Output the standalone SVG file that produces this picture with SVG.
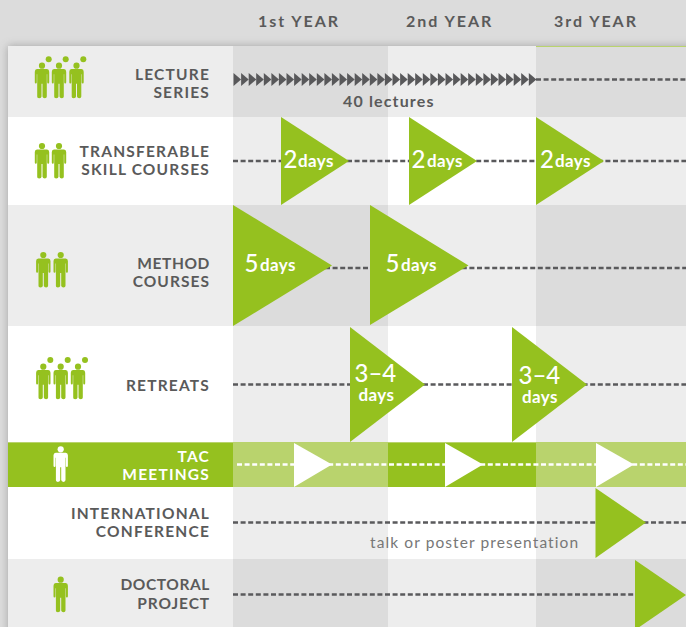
<svg xmlns="http://www.w3.org/2000/svg" width="686" height="627" viewBox="0 0 686 627">
<style>
.l{font:700 15.5px Lato,"Noto Sans",sans-serif;letter-spacing:1.2px;fill:#5a5a5a;text-anchor:end}
.y{font:700 16px Lato,"Noto Sans",sans-serif;letter-spacing:1.95px;fill:#5a5a5a}
.n{font:500 24px Lato,"Noto Sans",sans-serif;fill:#fff}
.d{font:700 17px Lato,"Noto Sans",sans-serif;letter-spacing:.4px;fill:#fff}
.g{fill:#95c11f}
.a{fill:#dcdcdc}.b{fill:#ededed}.c{fill:#fff}
.ln{fill:none;stroke:#5a5a5c;stroke-width:2.4;stroke-dasharray:5 2.6}
.lw{fill:none;stroke:#fff;stroke-width:2.4;stroke-dasharray:5 2.6}
</style>
<defs>
<filter id="sh" x="-5%" y="-5%" width="110%" height="110%"><feGaussianBlur stdDeviation="4"/></filter>
<g id="p">
<circle cx="0" cy="0" r="3.1"/>
<path d="M-5 3.4H5Q7.2 3.6 7.2 6V16.5Q7.2 17.8 6.2 17.8T5.2 16.5V8.5H4.8V30.8Q4.8 32.6 2.8 32.6T0.5 30.8V18H-0.5V30.8Q-0.5 32.6 -2.8 32.6T-4.8 30.8V8.5H-5.2V16.5Q-5.2 17.8 -6.2 17.8T-7.2 16.5V6Q-7.2 3.6 -5 3.4Z"/>
</g>
<path id="c" d="M0 -6.5L7.6 0L0 6.5Z" fill="#58585a"/>
</defs>
<rect width="686" height="627" fill="#dcdcdc"/>
<rect x="8" y="46" width="700" height="600" fill="#8a8a8a" filter="url(#sh)" opacity="0.7"/>
<g id="bands">
<rect x="8" y="46" width="225" height="71" class="b"/><rect x="233" y="46" width="155" height="71" class="a"/><rect x="388" y="46" width="148" height="71" class="b"/><rect x="536" y="46" width="150" height="71" class="a"/>
<rect x="8" y="117" width="225" height="88" class="c"/><rect x="233" y="117" width="155" height="88" class="b"/><rect x="388" y="117" width="148" height="88" class="c"/><rect x="536" y="117" width="150" height="88" class="b"/>
<rect x="8" y="205" width="225" height="121" class="b"/><rect x="233" y="205" width="155" height="121" class="a"/><rect x="388" y="205" width="148" height="121" class="b"/><rect x="536" y="205" width="150" height="121" class="a"/>
<rect x="8" y="326" width="225" height="116" class="c"/><rect x="233" y="326" width="155" height="116" class="b"/><rect x="388" y="326" width="148" height="116" class="c"/><rect x="536" y="326" width="150" height="116" class="b"/>
<rect x="8" y="442" width="225" height="45" class="g"/><rect x="233" y="442" width="155" height="45" fill="#b9d36d"/><rect x="388" y="442" width="148" height="45" class="g"/><rect x="536" y="442" width="150" height="45" fill="#b9d36d"/>
<rect x="8" y="487" width="225" height="72" class="c"/><rect x="233" y="487" width="155" height="72" class="b"/><rect x="388" y="487" width="148" height="72" class="c"/><rect x="536" y="487" width="150" height="72" class="b"/>
<rect x="8" y="559" width="225" height="68" class="b"/><rect x="233" y="559" width="155" height="68" class="a"/><rect x="388" y="559" width="148" height="68" class="b"/><rect x="536" y="559" width="150" height="68" class="a"/>
<rect x="536" y="46" width="150" height="1" fill="#b9d36d"/>
<rect x="8" y="442" width="678" height="1" fill="#b9d36d"/>
</g>
<g id="years">
<text class="y" x="258" y="27">1st YEAR</text>
<text class="y" x="406" y="27">2nd YEAR</text>
<text class="y" x="554" y="27">3rd YEAR</text>
</g>
<g id="connectors">
<path class="ln" d="M536 79.5H686"/>
<path class="ln" d="M233 161H686"/>
<path class="ln" d="M325 268H686"/>
<path class="ln" d="M233 384.5H686"/>
<path class="lw" d="M237 464.5H686"/>
<path class="ln" d="M233 522.5H686"/>
<path class="ln" d="M233 594.5H640"/>
</g>
<g id="lecture-series">
<g class="g"><use href="#p" x="42" y="65.7"/><use href="#p" x="59" y="65.7"/><use href="#p" x="76.5" y="65.7"/><circle cx="48.7" cy="59.3" r="3"/><circle cx="65.7" cy="59.3" r="3"/><circle cx="83.3" cy="59.3" r="3"/></g>
<text class="l"><tspan x="210" y="80">LECTURE</tspan><tspan x="210" y="98">SERIES</tspan></text>
<g id="chevrons">
<use href="#c" x="233.5" y="79.5"/><use href="#c" x="241.1" y="79.5"/><use href="#c" x="248.7" y="79.5"/><use href="#c" x="256.2" y="79.5"/><use href="#c" x="263.8" y="79.5"/><use href="#c" x="271.4" y="79.5"/><use href="#c" x="278.9" y="79.5"/><use href="#c" x="286.5" y="79.5"/><use href="#c" x="294.1" y="79.5"/><use href="#c" x="301.7" y="79.5"/><use href="#c" x="309.2" y="79.5"/><use href="#c" x="316.8" y="79.5"/><use href="#c" x="324.4" y="79.5"/><use href="#c" x="331.9" y="79.5"/><use href="#c" x="339.5" y="79.5"/><use href="#c" x="347.1" y="79.5"/><use href="#c" x="354.7" y="79.5"/><use href="#c" x="362.2" y="79.5"/><use href="#c" x="369.8" y="79.5"/><use href="#c" x="377.4" y="79.5"/><use href="#c" x="384.9" y="79.5"/><use href="#c" x="392.5" y="79.5"/><use href="#c" x="400.1" y="79.5"/><use href="#c" x="407.7" y="79.5"/><use href="#c" x="415.2" y="79.5"/><use href="#c" x="422.8" y="79.5"/><use href="#c" x="430.4" y="79.5"/><use href="#c" x="437.9" y="79.5"/><use href="#c" x="445.5" y="79.5"/><use href="#c" x="453.1" y="79.5"/><use href="#c" x="460.7" y="79.5"/><use href="#c" x="468.2" y="79.5"/><use href="#c" x="475.8" y="79.5"/><use href="#c" x="483.4" y="79.5"/><use href="#c" x="490.9" y="79.5"/><use href="#c" x="498.5" y="79.5"/><use href="#c" x="506.1" y="79.5"/><use href="#c" x="513.7" y="79.5"/><use href="#c" x="521.2" y="79.5"/><use href="#c" x="528.8" y="79.5"/>
</g>
<text x="343" y="107" style="font:700 16px Lato,'Noto Sans',sans-serif;letter-spacing:1.15px;fill:#5a5a5a">40 lectures</text>
</g>
<g id="transferable-skill-courses">
<g class="g"><use href="#p" x="42" y="146"/><use href="#p" x="59" y="146"/></g>
<text class="l"><tspan x="210" y="157">TRANSFERABLE</tspan><tspan x="210" y="175">SKILL COURSES</tspan></text>
<polygon class="g" points="281,117 349,161 281,205"/><polygon class="g" points="409,117 477,161 409,205"/><polygon class="g" points="536,117 604,161 536,205"/>
<text class="n" x="283.5" y="168">2<tspan class="d" x="298" y="167">days</tspan></text>
<text class="n" x="411.5" y="168">2<tspan class="d" x="427" y="167">days</tspan></text>
<text class="n" x="540" y="168">2<tspan class="d" x="555" y="167">days</tspan></text>
</g>
<g id="method-courses">
<g class="g"><use href="#p" x="43.3" y="255"/><use href="#p" x="60.7" y="255"/></g>
<text class="l"><tspan x="210" y="269" style="letter-spacing:.6px">METHOD</tspan><tspan x="210" y="287" style="letter-spacing:1.05px">COURSES</tspan></text>
<polygon class="g" points="233,205 332,265.5 233,326"/><polygon class="g" points="370,205 468.5,265.5 370,325"/>
<text class="n" x="244.5" y="272">5<tspan class="d" x="260" y="271">days</tspan></text>
<text class="n" x="385.5" y="272">5<tspan class="d" x="401" y="271">days</tspan></text>
</g>
<g id="retreats">
<g class="g"><use href="#p" x="43.3" y="366.7"/><use href="#p" x="60.7" y="366.7"/><use href="#p" x="78" y="366.7"/><circle cx="50.3" cy="360" r="3"/><circle cx="67.7" cy="360" r="3"/><circle cx="85" cy="360" r="3"/></g>
<text class="l"><tspan x="210" y="391">RETREATS</tspan></text>
<polygon class="g" points="350,327 425,384.5 350,442"/><polygon class="g" points="512,327 587,384.5 512,442"/>
<text class="n" x="354.5" y="382">3–4<tspan class="d" x="358.5" y="401">days</tspan></text>
<text class="n" x="518.5" y="384">3–4<tspan class="d" x="522" y="403">days</tspan></text>
</g>
<g id="tac-meetings">
<use href="#p" x="60.7" y="449.3" fill="#fff"/>
<text class="l" style="fill:#fff"><tspan x="210" y="462">TAC</tspan><tspan x="210" y="480">MEETINGS</tspan></text>
<polygon class="c" points="294,443 332,464.5 294,487"/><polygon class="c" points="445,443 483,464.5 445,487"/><polygon class="c" points="596,443 634,464.5 596,487"/>
</g>
<g id="international-conference">
<text class="l"><tspan x="210" y="519">INTERNATIONAL</tspan><tspan x="210" y="537">CONFERENCE</tspan></text>
<polygon class="g" points="595.5,488 646,522.5 595.5,558"/>
<text x="370" y="548" style="font:400 15.5px Lato,'Noto Sans',sans-serif;letter-spacing:1.1px;fill:#777">talk or poster presentation</text>
</g>
<g id="doctoral-project">
<use href="#p" x="60.7" y="579.7" class="g"/>
<text class="l"><tspan x="210" y="590" style="letter-spacing:.6px">DOCTORAL</tspan><tspan x="210" y="609" style="letter-spacing:.9px">PROJECT</tspan></text>
<polygon class="g" points="635,560 686,595 635,630"/>
</g>
</svg>
